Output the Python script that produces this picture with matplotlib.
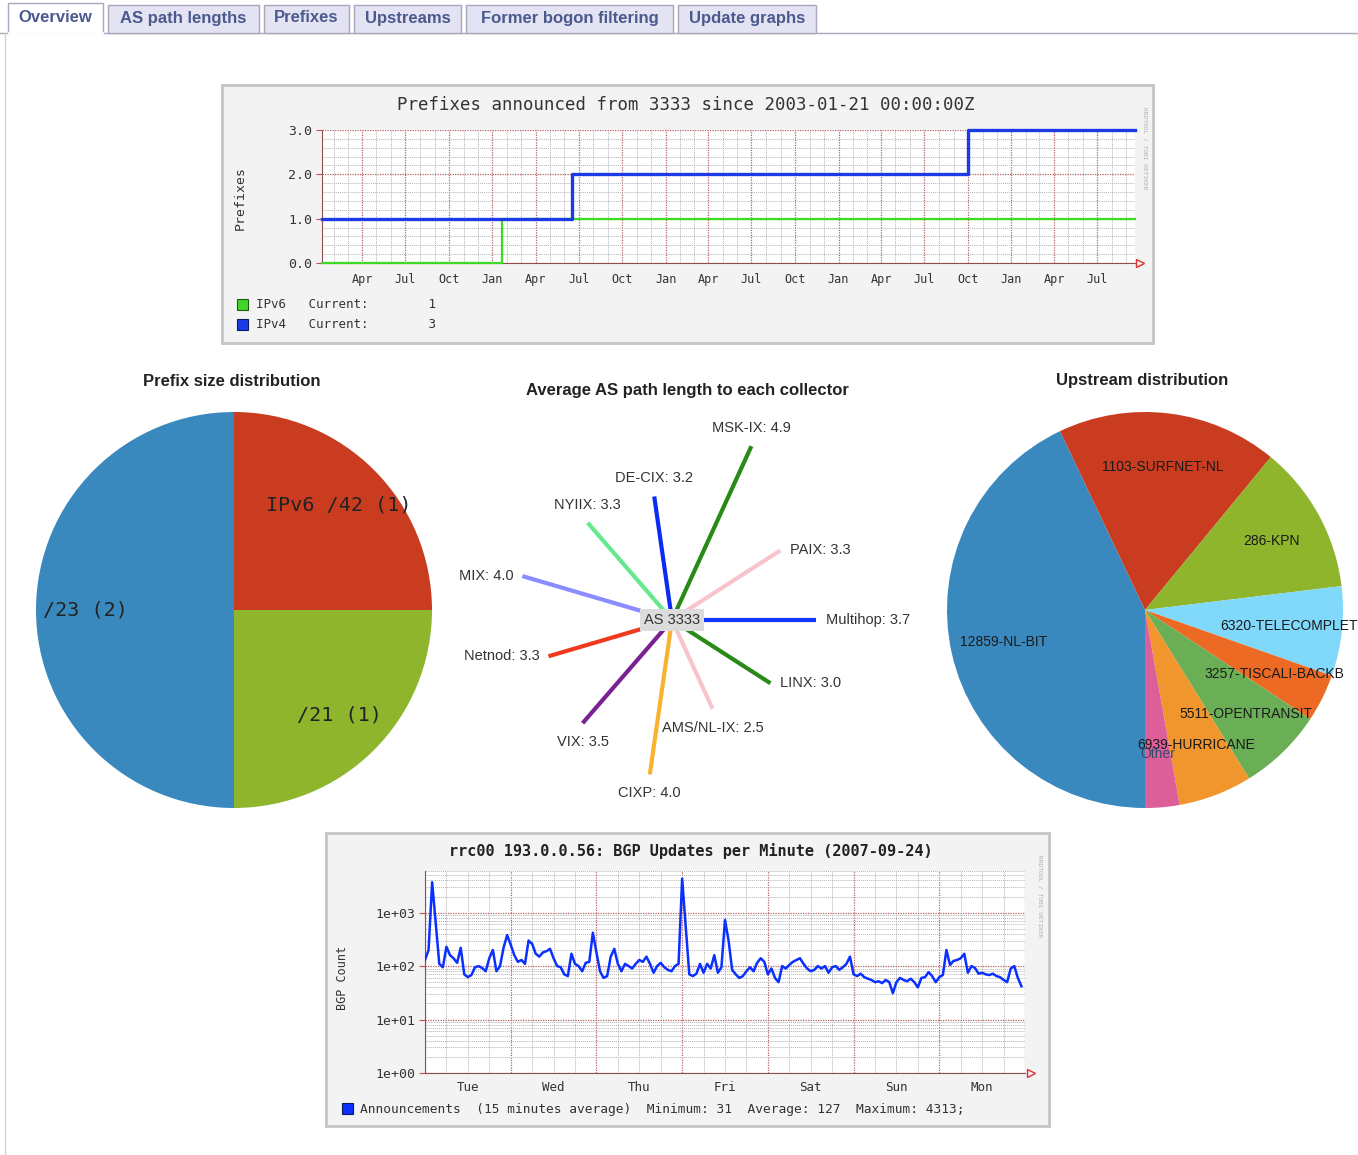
import numpy as np
import pandas as pd
import matplotlib
matplotlib.use("Agg")
import matplotlib.pyplot as plt
import matplotlib.dates as mdates
from matplotlib.patches import Rectangle
from matplotlib.ticker import (MultipleLocator, FormatStrFormatter, FuncFormatter,
                               LogLocator, NullFormatter)

plt.rcParams["font.family"] = ["Liberation Sans", "DejaVu Sans"]
MONO = "DejaVu Sans Mono"
SANS = ["Liberation Sans", "DejaVu Sans"]

W, H = 1358, 1155

# -----------------------------
# DATA
# -----------------------------
tab_names = ["Overview", "AS path lengths", "Prefixes", "Upstreams",
             "Former bogon filtering", "Update graphs"]

# prefixes announced (step changes)
ipv6_dates = ["2003-01-06", "2004-01-21", "2007-09-19"]
ipv6_counts = [0, 1, 1]
ipv4_dates = ["2003-01-06", "2004-06-17", "2006-10-02", "2007-09-19"]
ipv4_counts = [1, 2, 3, 3]

# prefix size pie
prefix_labels = ["IPv6 /42 (1)", "/21 (1)", "/23 (2)"]
prefix_counts = [1, 1, 2]
prefix_colors = ["#c93c20", "#8fb52c", "#3a89be"]

# average AS path length per collector
collectors = ["Multihop", "PAIX", "MSK-IX", "DE-CIX", "NYIIX", "MIX",
              "Netnod", "VIX", "CIXP", "AMS/NL-IX", "LINX"]
path_lengths = [3.7, 3.3, 4.9, 3.2, 3.3, 4.0, 3.3, 3.5, 4.0, 2.5, 3.0]
collector_colors = ["#1038ff", "#f8c4cc", "#2a8a18", "#0a2cf4", "#66e890", "#8a8cff",
                    "#f03a20", "#7a2294", "#f8b230", "#f8c4cc", "#2a8a18"]

# upstream distribution pie (percent)
upstream_labels = ["12859-NL-BIT", "1103-SURFNET-NL", "286-KPN", "6320-TELECOMPLET",
                   "3257-TISCALI-BACKB", "5511-OPENTRANSIT", "6939-HURRICANE", "Other"]
upstream_share = [42.9, 18.0, 12.1, 7.3, 3.9, 6.9, 6.0, 2.8]
upstream_colors = ["#3a89be", "#c93c20", "#8fb52c", "#80d8fa",
                   "#ec6a24", "#6aae55", "#f0962c", "#dc5f9a"]

# BGP updates per minute, hourly readings from 2007-09-18 00:00
bgp_counts = [
    130, 200, 3700, 650, 110, 95, 230, 160, 140, 115,
    220, 70, 62, 68, 95, 100, 92, 80, 140, 200,
    80, 100, 220, 380, 250, 160, 120, 130, 110, 300,
    260, 170, 150, 180, 190, 210, 140, 100, 95, 70,
    65, 170, 110, 100, 80, 115, 120, 420, 180, 80,
    60, 65, 150, 210, 110, 80, 110, 100, 90, 110,
    130, 120, 150, 110, 75, 100, 115, 95, 85, 80,
    100, 110, 4313, 560, 70, 65, 72, 110, 75, 110,
    90, 160, 75, 95, 730, 300, 85, 70, 60, 65,
    80, 95, 80, 115, 140, 120, 70, 90, 60, 50,
    100, 90, 105, 120, 130, 140, 110, 90, 80, 85,
    100, 90, 100, 75, 95, 100, 85, 95, 110, 150,
    70, 65, 72, 62, 58, 55, 50, 52, 48, 55,
    50, 31, 50, 60, 55, 52, 58, 50, 40, 60,
    62, 77, 65, 50, 62, 68, 200, 105, 125, 130,
    140, 170, 75, 100, 92, 72, 75, 70, 68, 72,
    65, 62, 55, 50, 90, 100, 60, 42,
]
bgp_start = "2007-09-18 00:00"


def box(x0, y0, x1, y1):
    # pixel box (top-left origin) -> figure fraction
    return [x0 / W, 1 - y1 / H, (x1 - x0) / W, (y1 - y0) / H]


def rrd_style(ax):
    ax.set_facecolor("white")
    ax.set_axisbelow(True)
    ax.grid(True, which="minor", color="#b4b4b4", ls=(0, (1, 1)), lw=0.7)
    ax.grid(True, which="major", color="#b86060", ls=(0, (1, 1)), lw=0.9)
    for s in ["top", "right"]:
        ax.spines[s].set_visible(False)
    for s in ["left", "bottom"]:
        ax.spines[s].set_color("#8a5050")


fig = plt.figure(figsize=(W / 100, H / 100), dpi=100)
fig.patch.set_facecolor("white")

# background layer in pixel coordinates
bg = fig.add_axes([0, 0, 1, 1])
bg.set_xlim(0, W)
bg.set_ylim(H, 0)
bg.axis("off")

# tabs
tab_spans = [(8, 103), (108, 259), (264, 349), (354, 461), (466, 673), (678, 816)]
bg.plot([0, W], [33, 33], color="#a8a8bc", lw=1, zorder=1)
bg.plot([5, 5], [33, H], color="#d4d4d4", lw=1, zorder=1)
for i, (name, (x0, x1)) in enumerate(zip(tab_names, tab_spans)):
    active = i == 0
    top = 3 if active else 5
    bg.add_patch(Rectangle((x0, top), x1 - x0, 33 - top,
                           fc="white" if active else "#e3e3f3", ec="#a8a8bc", lw=1, zorder=2))
    if active:
        bg.plot([x0 + 1, x1 - 1], [33, 33], color="white", lw=2, zorder=3)
    bg.text((x0 + x1) / 2, 18, name, ha="center", va="center", fontsize=12,
            fontweight="bold", color="#4a5a8c", zorder=4)

# RRD panels
bg.add_patch(Rectangle((222, 85), 931, 258, fc="#f3f3f3", ec="#c4c4c4", lw=2))
bg.add_patch(Rectangle((326, 833), 723, 293, fc="#f3f3f3", ec="#c4c4c4", lw=2))

# -----------------------------
# TOP: prefixes announced
# -----------------------------
ax1 = fig.add_axes(box(322, 130, 1135, 263))
rrd_style(ax1)
d6 = pd.to_datetime(ipv6_dates)
d4 = pd.to_datetime(ipv4_dates)
ax1.step(d6, ipv6_counts, where="post", color="#3cdc20", lw=1.6, zorder=3, clip_on=False)
ax1.step(d4, ipv4_counts, where="post", color="#1c3ae6", lw=2.4, zorder=4, clip_on=False)
ax1.set_xlim(d4[0], d4[-1])
ax1.set_ylim(0, 3.0)
ax1.xaxis.set_major_locator(mdates.MonthLocator(bymonth=[1, 4, 7, 10]))
ax1.xaxis.set_minor_locator(mdates.MonthLocator())
ax1.xaxis.set_major_formatter(mdates.DateFormatter("%b"))
ax1.yaxis.set_major_locator(MultipleLocator(1))
ax1.yaxis.set_minor_locator(MultipleLocator(0.2))
ax1.yaxis.set_major_formatter(FormatStrFormatter("%.1f"))
ax1.tick_params(axis="x", which="both", length=0, pad=7, labelsize=8.5,
                labelfontfamily=MONO, labelcolor="#333333")
ax1.tick_params(axis="y", which="major", length=4, color="#c05050", pad=3,
                labelsize=9.5, labelfontfamily=MONO, labelcolor="#333333")
ax1.tick_params(axis="y", which="minor", length=0)

bg.text(686, 105, "Prefixes announced from 3333 since 2003-01-21 00:00:00Z",
        ha="center", va="center", family=MONO, fontsize=12.5, color="#333333")
bg.text(240, 198, "Prefixes", rotation=90, ha="center", va="center",
        family=MONO, fontsize=9.5, color="#333333")
bg.text(1145, 148, "RRDTOOL / TOBI OETIKER", rotation=270, ha="center", va="center",
        family=MONO, fontsize=4.5, color="#b0b0b0")
bg.plot(1140, 263, marker=">", ms=6, mfc="none", mec="#e03030", mew=1)
bg.add_patch(Rectangle((237, 299), 11, 11, fc="#44d42a", ec="#1e5a10", lw=0.8))
bg.add_patch(Rectangle((237, 319), 11, 11, fc="#1c3ae6", ec="#0a1a60", lw=0.8))
bg.text(256, 305, f"IPv6   Current:        {ipv6_counts[-1]}", va="center",
        family=MONO, fontsize=9, color="#333333")
bg.text(256, 325, f"IPv4   Current:        {ipv4_counts[-1]}", va="center",
        family=MONO, fontsize=9, color="#333333")

# -----------------------------
# MIDDLE: pies and AS path star
# -----------------------------
bg.text(232, 381, "Prefix size distribution", ha="center", va="center",
        fontsize=12, fontweight="bold", color="#222222")
bg.text(687, 391, "Average AS path length to each collector", ha="center", va="center",
        fontsize=12, fontweight="bold", color="#222222")
bg.text(1142, 381, "Upstream distribution", ha="center", va="center",
        fontsize=12, fontweight="bold", color="#222222")

p1 = fig.add_axes(box(34, 410, 434, 810))
p1.pie(prefix_counts, labels=prefix_labels, colors=prefix_colors, startangle=90,
       counterclock=False, radius=0.99, labeldistance=0.75,
       wedgeprops=dict(lw=0),
       textprops=dict(family=MONO, size=14.5, color="#222222", ha="center", va="center"))
p1.set_xlim(-1, 1)
p1.set_ylim(-1, 1)
p1.set_aspect("equal")

p2 = fig.add_axes(box(945, 410, 1345, 810))
_, utexts = p2.pie(upstream_share, labels=upstream_labels, colors=upstream_colors,
                   startangle=-90, counterclock=False, radius=0.99, labeldistance=0.73,
                   wedgeprops=dict(lw=0),
                   textprops=dict(size=10, color="#1a1a1a", ha="center", va="center"))
utexts[-1].set_color("#2d4d6d")
p2.set_xlim(-1, 1)
p2.set_ylim(-1, 1)
p2.set_aspect("equal")

# star: 39 px per hop
ax2 = fig.add_axes(box(472, 420, 872, 820))
lim = 200 / 39
ax2.set_xlim(-lim, lim)
ax2.set_ylim(-lim, lim)
ax2.axis("off")
angles = np.arange(len(collectors)) * 2 * np.pi / len(collectors)
for name, val, col, a in zip(collectors, path_lengths, collector_colors, angles):
    c, s = np.cos(a), np.sin(a)
    ex, ey = val * c, val * s
    ax2.plot([0, ex], [0, ey], color=col, lw=3, solid_capstyle="butt", clip_on=False)
    if c > 0.75:
        off, ha = (10, 0), "left"
    elif c < -0.75:
        off, ha = (-9, 0), "right"
    elif s > 0:
        off, ha = (0, 18), "center"
    else:
        off, ha = (0, -19), "center"
    ax2.annotate(f"{name}: {val:.1f}", (ex, ey), xytext=off, textcoords="offset pixels",
                 ha=ha, va="center", fontsize=10.5, color="#333333", annotation_clip=False)
ax2.text(0, 0, "AS 3333", ha="center", va="center", fontsize=10.5, color="#333333",
         zorder=5, bbox=dict(boxstyle="square,pad=0.25", fc="#dcdcdc", ec="none"))

# -----------------------------
# BOTTOM: BGP updates
# -----------------------------
ax3 = fig.add_axes(box(425, 871, 1025, 1073))
rrd_style(ax3)
bgp_times = pd.date_range(bgp_start, periods=len(bgp_counts), freq="h")
ax3.plot(bgp_times, bgp_counts, color="#0a30ff", lw=1.8, zorder=3)
ax3.set_yscale("log")
ax3.set_ylim(1, 6000)
ax3.set_xlim(pd.Timestamp(bgp_start), pd.Timestamp(bgp_start) + pd.Timedelta(days=7))
ax3.xaxis.set_major_locator(mdates.DayLocator())
ax3.xaxis.set_major_formatter(NullFormatter())
ax3.xaxis.set_minor_locator(mdates.HourLocator(byhour=[6, 12, 18]))


def day_name(x, pos):
    d = mdates.num2date(x)
    return d.strftime("%a") if d.hour == 12 else ""


ax3.xaxis.set_minor_formatter(FuncFormatter(day_name))
ax3.yaxis.set_major_locator(LogLocator(base=10, numticks=10))
ax3.yaxis.set_minor_locator(LogLocator(base=10, subs=range(2, 10), numticks=20))
ax3.yaxis.set_major_formatter(FuncFormatter(lambda v, p: f"1e+{int(round(np.log10(v))):02d}"))
ax3.yaxis.set_minor_formatter(NullFormatter())
ax3.tick_params(axis="x", which="both", length=0, pad=6, labelsize=9,
                labelfontfamily=MONO, labelcolor="#333333")
ax3.tick_params(axis="y", which="major", length=4, color="#c05050", pad=3,
                labelsize=9.5, labelfontfamily=MONO, labelcolor="#333333")
ax3.tick_params(axis="y", which="minor", length=0)

bg.text(691, 851, "rrc00 193.0.0.56: BGP Updates per Minute (2007-09-24)",
        ha="center", va="center", family=MONO, fontsize=11, fontweight="bold", color="#222222")
bg.text(342, 978, "BGP Count", rotation=90, ha="center", va="center",
        family=MONO, fontsize=8.5, color="#333333")
bg.text(1040, 896, "RRDTOOL / TOBI OETIKER", rotation=270, ha="center", va="center",
        family=MONO, fontsize=4.5, color="#b0b0b0")
bg.plot(1031, 1073, marker=">", ms=6, mfc="none", mec="#e03030", mew=1)
bg.add_patch(Rectangle((342, 1103), 11, 11, fc="#0a30ff", ec="#0a1a60", lw=0.8))
bg.text(360, 1109,
        f"Announcements  (15 minutes average)  Minimum: {min(bgp_counts)}  "
        f"Average: 127  Maximum: {max(bgp_counts)};",
        va="center", family=MONO, fontsize=9.3, color="#333333")

fig.savefig("out.png", dpi=100, facecolor="white")
